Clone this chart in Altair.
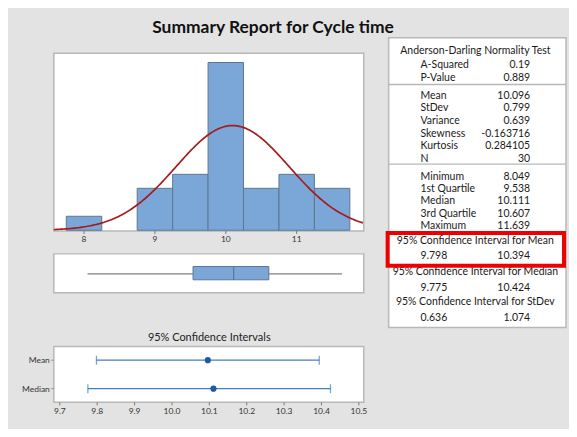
import altair as alt
import pandas as pd

# ---- data ----
bin_lo = [7.75, 8.25, 8.75, 9.25, 9.75, 10.25, 10.75, 11.25]
bin_hi = [8.25, 8.75, 9.25, 9.75, 10.25, 10.75, 11.25, 11.75]
counts = [1, 0, 3, 4, 12, 3, 4, 3]
hist_ticks = [8, 9, 10, 11]

mean, stdev, n_obs, bin_width = 10.096, 0.799, 30, 0.5
box_min, box_q1, box_med, box_q3, box_max = 8.049, 9.538, 10.111, 10.607, 11.639

ci_names = ["Mean", "Median"]
ci_est = [10.096, 10.111]
ci_lo = [9.798, 9.775]
ci_hi = [10.394, 10.424]
ci_ticks = [9.7, 9.8, 9.9, 10.0, 10.1, 10.2, 10.3, 10.4, 10.5]

stat_labels = ["A-Squared", "P-Value",
               "Mean", "StDev", "Variance", "Skewness", "Kurtosis", "N",
               "Minimum", "1st Quartile", "Median", "3rd Quartile", "Maximum"]
stat_values = ["0.19", "0.889",
               "10.096", "0.799", "0.639", "-0.163716", "0.284105", "30",
               "8.049", "9.538", "10.111", "10.607", "11.639"]
ci_headers = ["Anderson-Darling Normality Test",
              "95% Confidence Interval for Mean",
              "95% Confidence Interval for Median",
              "95% Confidence Interval for StDev"]
ci_lo_txt = ["9.798", "9.775", "0.636"]
ci_hi_txt = ["10.394", "10.424", "1.074"]

# ---- layout (pixels) ----
stat_rows_y = [56.3, 69.3, 87.7, 100, 113, 125.7, 138, 150.3,
               168.7, 181, 193.3, 205.7, 218]
header_y = [42, 233, 264, 294.7]
ci_val_y = [247.7, 280, 310]

FONT = "Lato"
BLUE = "#7ba7d8"
EDGE = "#5f7590"
FRAME = "#b8b8b8"

XH = alt.Scale(domain=[7.574, 11.946], range=[46, 357])
YH = alt.Scale(domain=[0, 12.66], range=[222.3, 44.7])
XC = alt.Scale(domain=[9.684, 10.513], range=[46, 357])
YC = alt.Scale(type="point", domain=ci_names, range=[352.7, 381.3], padding=0)

one = pd.DataFrame({"k": [0]})


def frame(x1, y1, x2, y2, stroke=FRAME, width=1.5, fill="white"):
    return alt.Chart(one).mark_rect(fill=fill, stroke=stroke, strokeWidth=width).encode(
        x=alt.value(x1), x2=alt.value(x2), y=alt.value(y1), y2=alt.value(y2))


hist_df = pd.DataFrame({"lo": bin_lo, "hi": bin_hi, "count": counts})
box_df = pd.DataFrame({"mn": [box_min], "q1": [box_q1], "med": [box_med],
                       "q3": [box_q3], "mx": [box_max]})
ci_df = pd.DataFrame({"name": ci_names, "est": ci_est, "lo": ci_lo, "hi": ci_hi})
stat_df = pd.DataFrame({"label": stat_labels, "value": stat_values, "y": stat_rows_y})
head_df = pd.DataFrame({"text": ci_headers, "y": header_y})
civ_df = pd.DataFrame({"lo": ci_lo_txt, "hi": ci_hi_txt, "y": ci_val_y})

title = alt.Chart(one).mark_text(
    text="Summary Report for Cycle time", font=FONT, fontSize=17.5, fontWeight="bold",
    color="#111111", align="center", baseline="alphabetic"
).encode(x=alt.value(266), y=alt.value(24.5))

# histogram panel
hist_frame = frame(46, 44.7, 357, 223)
bars = alt.Chart(hist_df).mark_rect(fill=BLUE, stroke=EDGE, strokeWidth=1).encode(
    x=alt.X("lo:Q", scale=XH, axis=None),
    x2="hi:Q",
    y=alt.Y("count:Q", scale=YH, axis=None),
    y2=alt.datum(0),
).transform_filter("datum.count > 0")
curve = alt.Chart(alt.sequence(7.574, 11.95, 0.02, as_="x")).transform_calculate(
    d=f"{n_obs * bin_width}*exp(-0.5*pow((datum.x-{mean})/{stdev},2))/({stdev}*sqrt(2*PI))"
).mark_line(color="#a31d1d", strokeWidth=1.7).encode(
    x=alt.X("x:Q", scale=XH, axis=None),
    y=alt.Y("d:Q", scale=YH, axis=None),
)
htick_df = pd.DataFrame({"t": hist_ticks})
htick = alt.Chart(htick_df).mark_rule(color="#777777").encode(
    x=alt.X("t:Q", scale=XH, axis=None), y=alt.value(223), y2=alt.value(226))
hlab = alt.Chart(htick_df).mark_text(font=FONT, fontSize=8.5, color="#333333", baseline="middle").encode(
    x=alt.X("t:Q", scale=XH, axis=None), y=alt.value(231), text="t:N")

# boxplot panel
box_frame = frame(46, 246, 357, 285)
whisk = alt.Chart(box_df).mark_rule(color="#808080", strokeWidth=1.2).encode(
    x=alt.X("mn:Q", scale=XH, axis=None), x2="mx:Q", y=alt.value(266))
box = alt.Chart(box_df).mark_rect(fill=BLUE, stroke=EDGE, strokeWidth=1).encode(
    x=alt.X("q1:Q", scale=XH, axis=None), x2="q3:Q", y=alt.value(258.7), y2=alt.value(272))
med = alt.Chart(box_df).mark_rule(color=EDGE, strokeWidth=1.2).encode(
    x=alt.X("med:Q", scale=XH, axis=None), y=alt.value(258.7), y2=alt.value(272))

# confidence interval panel
ci_title = alt.Chart(one).mark_text(
    text="95% Confidence Intervals", font=FONT, fontSize=11, color="#222222",
    align="center", baseline="middle").encode(x=alt.value(202), y=alt.value(330))
ci_frame = frame(46, 339, 357, 395)
ctick_df = pd.DataFrame({"t": ci_ticks})
ctick = alt.Chart(ctick_df).mark_rule(color="#777777").encode(
    x=alt.X("t:Q", scale=XC, axis=None), y=alt.value(395), y2=alt.value(398))
clab = alt.Chart(ctick_df).mark_text(font=FONT, fontSize=8.5, color="#333333", baseline="middle").encode(
    x=alt.X("t:Q", scale=XC, axis=None), y=alt.value(404), text=alt.Text("t:Q", format=".1f"))
ytick = alt.Chart(ci_df).mark_tick(orient="horizontal", size=3, thickness=1, color="#777777").encode(
    x=alt.value(44.5), y=alt.Y("name:N", scale=YC, axis=None))
ylab = alt.Chart(ci_df).mark_text(font=FONT, fontSize=8.5, color="#333333", align="right",
                                  baseline="middle").encode(
    x=alt.value(42), y=alt.Y("name:N", scale=YC, axis=None), text="name:N")
ci_line = alt.Chart(ci_df).mark_rule(color="#3f7fc4", strokeWidth=1.3).encode(
    x=alt.X("lo:Q", scale=XC, axis=None), x2="hi:Q", y=alt.Y("name:N", scale=YC, axis=None))
cap_lo = alt.Chart(ci_df).mark_tick(orient="vertical", size=9, thickness=1.3, color="#3f7fc4").encode(
    x=alt.X("lo:Q", scale=XC, axis=None), y=alt.Y("name:N", scale=YC, axis=None))
cap_hi = alt.Chart(ci_df).mark_tick(orient="vertical", size=9, thickness=1.3, color="#3f7fc4").encode(
    x=alt.X("hi:Q", scale=XC, axis=None), y=alt.Y("name:N", scale=YC, axis=None))
ci_pt = alt.Chart(ci_df).mark_circle(size=38, color="#1f5aa6", opacity=1).encode(
    x=alt.X("est:Q", scale=XC, axis=None), y=alt.Y("name:N", scale=YC, axis=None))

# statistics panel
stat_frame = frame(382, 29, 560, 320)
sep = alt.Chart(pd.DataFrame({"y": [76, 156]})).mark_rule(color=FRAME, strokeWidth=1.3).encode(
    x=alt.value(382), x2=alt.value(560), y=alt.Y("y:Q", scale=None, axis=None))
txt = dict(font=FONT, fontSize=10.5, color="#1a1a1a", baseline="middle")
s_lab = alt.Chart(stat_df).mark_text(align="left", **txt).encode(
    x=alt.value(414), y=alt.Y("y:Q", scale=None, axis=None), text="label:N")
s_val = alt.Chart(stat_df).mark_text(align="right", **txt).encode(
    x=alt.value(524), y=alt.Y("y:Q", scale=None, axis=None), text="value:N")
s_head = alt.Chart(head_df).mark_text(align="center", **txt).encode(
    x=alt.value(469), y=alt.Y("y:Q", scale=None, axis=None), text="text:N")
s_clo = alt.Chart(civ_df).mark_text(align="left", **txt).encode(
    x=alt.value(414), y=alt.Y("y:Q", scale=None, axis=None), text="lo:N")
s_chi = alt.Chart(civ_df).mark_text(align="right", **txt).encode(
    x=alt.value(524), y=alt.Y("y:Q", scale=None, axis=None), text="hi:N")
red = alt.Chart(one).mark_rect(fill=None, stroke="#ee0000", strokeWidth=4).encode(
    x=alt.value(381), x2=alt.value(558), y=alt.value(225), y2=alt.value(258))

chart = alt.layer(
    title,
    hist_frame, bars, curve, htick, hlab,
    box_frame, whisk, box, med,
    ci_title, ci_frame, ctick, clab, ytick, ylab, ci_line, cap_lo, cap_hi, ci_pt,
    stat_frame, sep, s_lab, s_val, s_head, s_clo, s_chi, red,
).resolve_scale(x="independent", y="independent").properties(
    width=563, height=421, padding=0, background="#e3e3e3",
    autosize=alt.AutoSizeParams(type="none"),
).configure_view(stroke=None)

chart.save("out.html", embed_options={"renderer": "svg", "actions": False})
